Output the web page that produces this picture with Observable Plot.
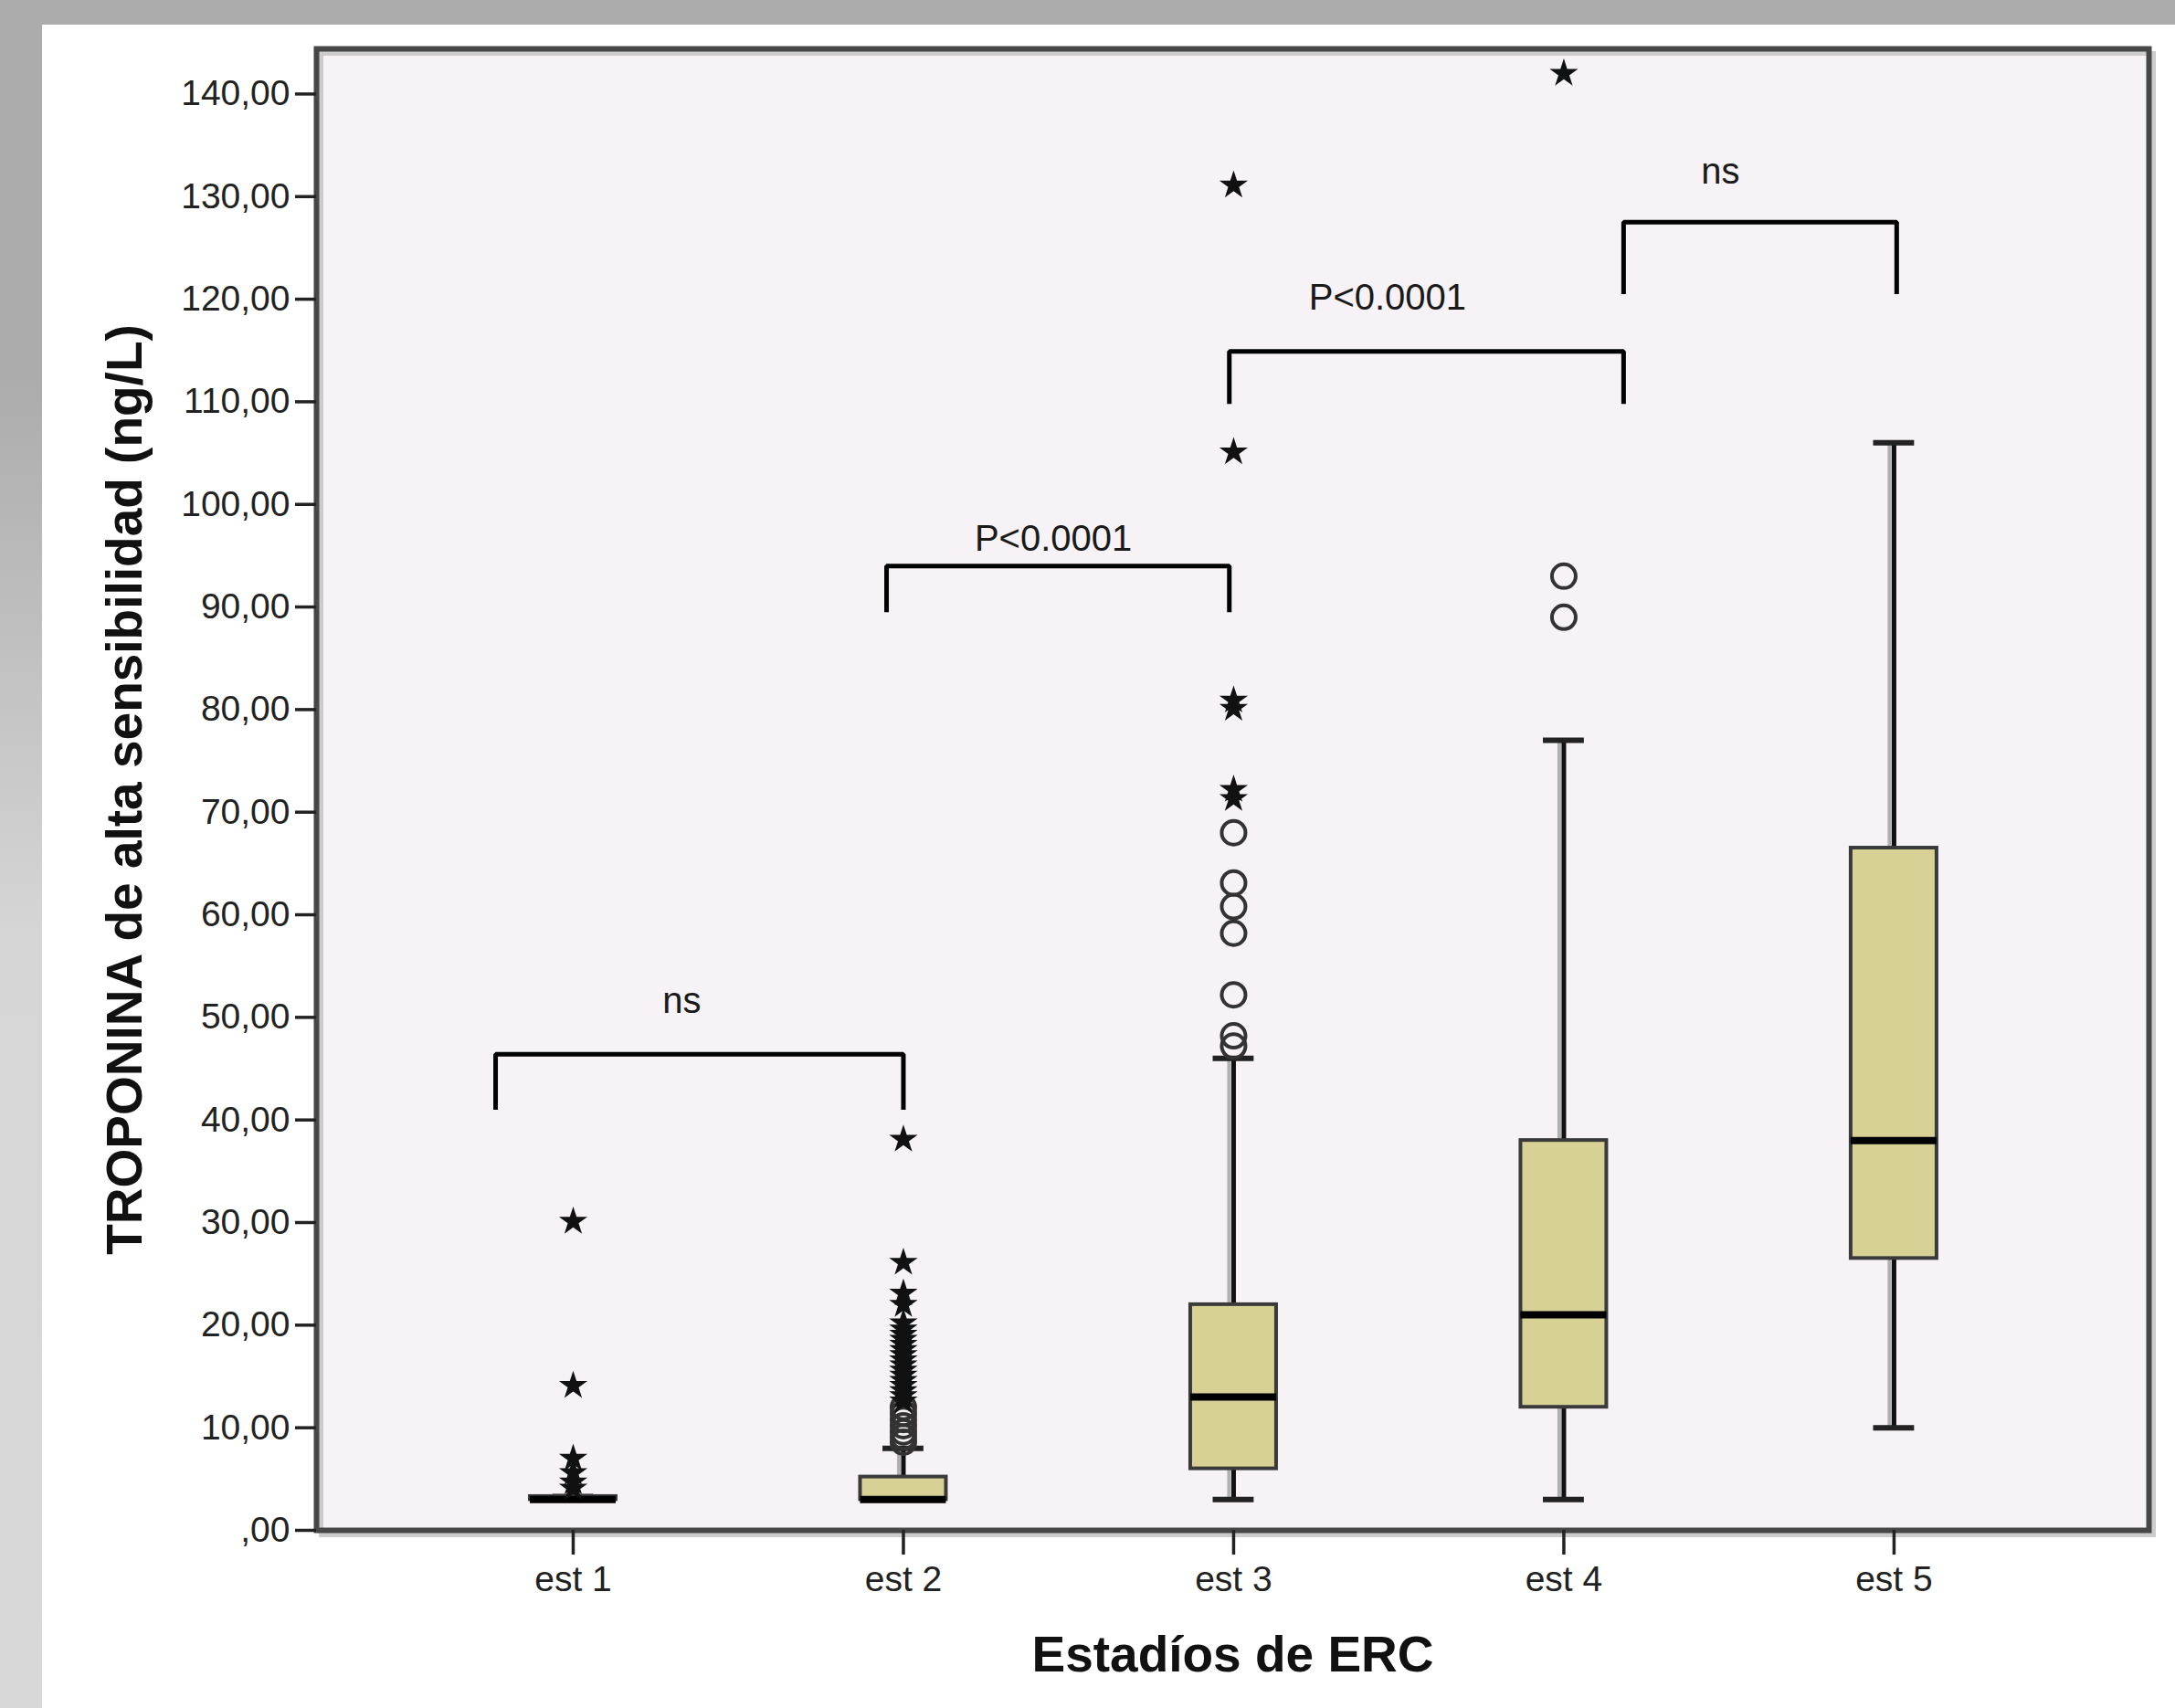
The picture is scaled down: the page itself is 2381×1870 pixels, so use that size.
<!DOCTYPE html>
<html>
<head>
<meta charset="utf-8">
<script src="https://cdn.jsdelivr.net/npm/d3@7"></script>
<script src="https://cdn.jsdelivr.net/npm/@observablehq/plot@0.6"></script>
<style>
html, body { margin: 0; padding: 0; background: #fff; }
#wrap { position: relative; width: 2381px; height: 1870px; overflow: hidden; background: #fff; }
#topband { position: absolute; left: 0; top: 0; width: 2381px; height: 27px; background: #acacac; }
#leftband { position: absolute; left: 0; top: 0; width: 46px; height: 1870px; background: linear-gradient(#acacac 0%, #acacac 22%, #d6d6d6 55%, #d8d8d8 100%); }
#chart { position: absolute; left: 0; top: 0; }
#chart svg { background: transparent; }
</style>
</head>
<body>
<div id="wrap">
  <div id="topband"></div>
  <div id="leftband"></div>
  <div id="chart"></div>
</div>
<script>
// ---- Data ----
const categories = ["est 1", "est 2", "est 3", "est 4", "est 5"];
const q1 = [3, 3, 6, 12, 26.5];
const median = [3, 3, 13, 21, 38];
const q3 = [3.3, 5.2, 22, 38, 66.5];
const whiskerLow = [3, 3, 3, 3, 10];
const whiskerHigh = [3.3, 8, 46, 77, 106];
const circleOutliers = [
  [],
  [8.6, 9.1, 9.6, 10.2, 10.8, 11.4, 12.0],
  [47.2, 48.2, 52.2, 58.2, 60.8, 63.1, 68.0],
  [89, 93],
  []
];
const starOutliers = [
  [4.1, 4.7, 5.6, 7.0, 14.1, 30.1],
  [12.6, 13.1, 13.6, 14.1, 14.6, 15.1, 15.6, 16.1, 16.6, 17.1, 17.6, 18.1, 18.6, 19.1, 19.6, 20.2, 22.0, 23.1, 26.1, 38.1],
  [71.3, 72.2, 80.1, 80.9, 105.1, 131.1],
  [142],
  []
];
const yTicks = [0, 10, 20, 30, 40, 50, 60, 70, 80, 90, 100, 110, 120, 130, 140];

// significance brackets (x in category-position units, y in ng/L)
const bracketFrom = [0.765, 1.949, 2.987, 4.181];
const bracketTo = [2.0, 2.987, 4.181, 5.008];
const bracketTop = [46.4, 94.0, 114.9, 127.5];
const bracketLeg = [41.0, 89.5, 109.8, 120.5];
const bracketLabel = ["ns", "P<0.0001", "P<0.0001", "ns"];
const labelX = [1.329, 2.454, 3.466, 4.474];
const labelY = [51.6, 96.6, 120.1, 132.4];

const yTitle = "TROPONINA de alta sensibilidad (ng/L)";
const xTitle = "Estadíos de ERC";

// ---- Build tables ----
const boxHalf = 0.13, capHalf = 0.062;
const boxes = categories.map((c, i) => ({
  pos: i + 1, q1: q1[i], median: median[i], q3: q3[i], lo: whiskerLow[i], hi: whiskerHigh[i]
}));
const caps = boxes.flatMap(b => [{pos: b.pos, v: b.lo}, {pos: b.pos, v: b.hi}]);
const circles = circleOutliers.flatMap((arr, i) => arr.map(v => ({pos: i + 1, v})));
const stars = starOutliers.flatMap((arr, i) => arr.map(v => ({pos: i + 1, v})));
const bracketPts = bracketFrom.flatMap((f, i) => [
  {id: i, x: f, y: bracketLeg[i]},
  {id: i, x: f, y: bracketTop[i]},
  {id: i, x: bracketTo[i], y: bracketTop[i]},
  {id: i, x: bracketTo[i], y: bracketLeg[i]}
]);
const labels = bracketLabel.map((t, i) => ({t, x: labelX[i], y: labelY[i]}));

const fmt = d => d === 0 ? ",00" : d.toFixed(2).replace(".", ",");

const chart = Plot.plot({
  width: 2381,
  height: 1870,
  marginLeft: 346,
  marginRight: 29,
  marginTop: 53,
  marginBottom: 195,
  style: {fontFamily: "Arial, 'Liberation Sans', sans-serif", background: "transparent", color: "#1a1a1a"},
  x: {domain: [0.2227, 5.772], axis: null},
  y: {domain: [0, 144.4], axis: null},
  marks: [
    Plot.frame({fill: "#f6f2f6"}),
    // whisker shadow + whisker
    Plot.ruleX(boxes, {x: "pos", y1: "lo", y2: "hi", stroke: "#b0b0b0", strokeWidth: 4, dx: -5}),
    Plot.ruleX(boxes, {x: "pos", y1: "lo", y2: "hi", stroke: "#111", strokeWidth: 5}),
    Plot.ruleY(caps, {y: "v", x1: d => d.pos - capHalf, x2: d => d.pos + capHalf, stroke: "#222", strokeWidth: 6}),
    Plot.rect(boxes, {x1: d => d.pos - boxHalf, x2: d => d.pos + boxHalf, y1: "q1", y2: "q3",
      fill: "#d8d196", stroke: "#3a3a3a", strokeWidth: 4}),
    Plot.ruleY(boxes, {y: "median", x1: d => d.pos - boxHalf, x2: d => d.pos + boxHalf, stroke: "#000", strokeWidth: 8}),
    Plot.dot(circles, {x: "pos", y: "v", r: 13, stroke: "#333", strokeWidth: 4, fill: "none"}),
    Plot.dot(stars, {x: "pos", y: "v", r: 9.8, symbol: "star", fill: "#111", stroke: "none"}),
    Plot.line(bracketPts, {x: "x", y: "y", z: "id", stroke: "#000", strokeWidth: 5,
      strokeLinejoin: "miter", strokeLinecap: "butt", curve: "linear"}),
    Plot.text(labels, {x: "x", y: "y", text: "t", fontSize: 40, fill: "#1a1a1a", lineAnchor: "middle"}),
    // frame with light shadow
    Plot.frame({stroke: "#cccccc", strokeWidth: 5, dx: 5, dy: 5}),
    Plot.frame({stroke: "#474747", strokeWidth: 6}),
    Plot.axisY({ticks: yTicks, tickFormat: fmt, tickSize: 23, tickPadding: 6, fontSize: 39,
      strokeWidth: 3.5, color: "#222", label: null}),
    Plot.axisX({ticks: [1, 2, 3, 4, 5], tickFormat: d => categories[d - 1], tickSize: 27, tickPadding: 12,
      fontSize: 39, strokeWidth: 3.5, color: "#222", label: null}),
    Plot.text([yTitle], {frameAnchor: "left", dx: -209, rotate: -90, textAnchor: "middle", lineAnchor: "middle",
      fontSize: 55, fontWeight: "bold", fill: "#111"}),
    Plot.text([xTitle], {frameAnchor: "bottom", dy: 137, textAnchor: "middle", lineAnchor: "middle",
      fontSize: 55, fontWeight: "bold", fill: "#111"})
  ]
});
document.getElementById("chart").appendChild(chart);
</script>
</body>
</html>
